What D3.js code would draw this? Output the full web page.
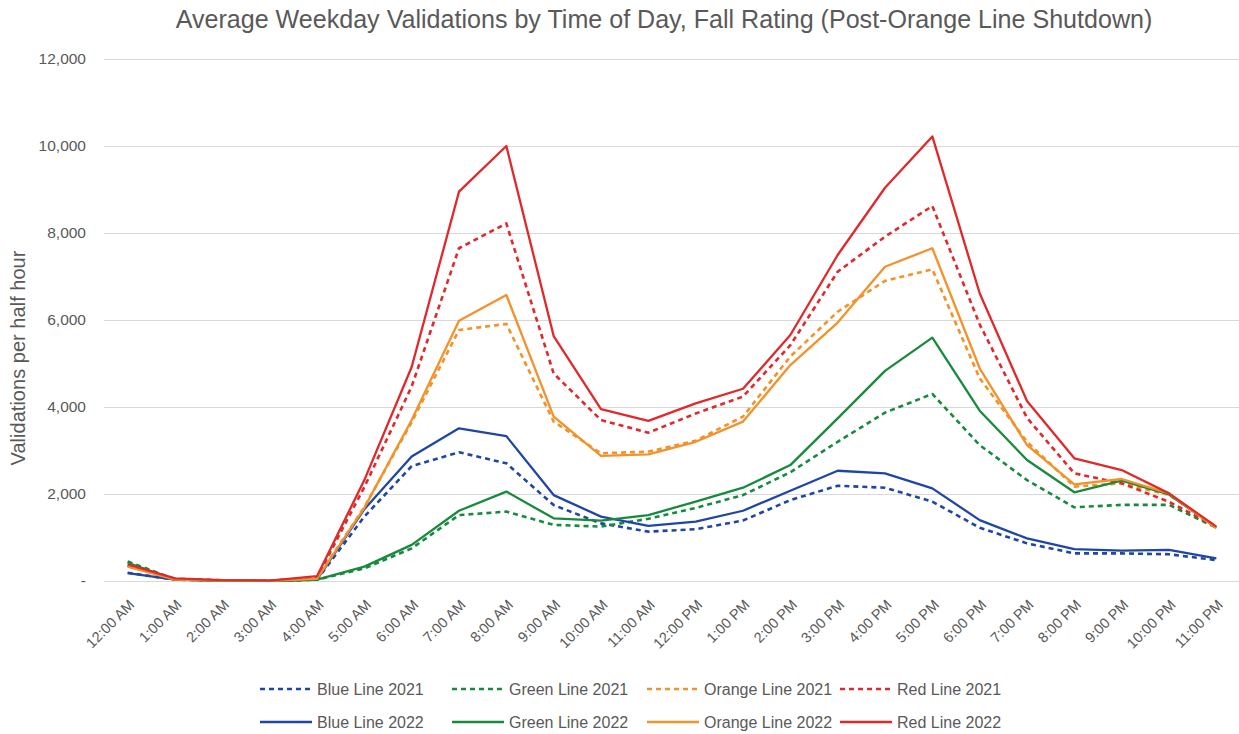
<!DOCTYPE html>
<html>
<head>
<meta charset="utf-8">
<script src="https://cdn.jsdelivr.net/npm/d3@7"></script>
<style>
  html, body { margin: 0; padding: 0; background: #fff; }
  svg { display: block; font-family: "Liberation Sans", Arial, sans-serif; }
</style>
</head>
<body>
<svg id="chart" width="1239" height="734"></svg>
<script>
const hours = ["12:00 AM","1:00 AM","2:00 AM","3:00 AM","4:00 AM","5:00 AM","6:00 AM","7:00 AM","8:00 AM","9:00 AM","10:00 AM","11:00 AM",
  "12:00 PM","1:00 PM","2:00 PM","3:00 PM","4:00 PM","5:00 PM","6:00 PM","7:00 PM","8:00 PM","9:00 PM","10:00 PM","11:00 PM"];
const yTicks = [0, 2000, 4000, 6000, 8000, 10000, 12000];

const blue2021   = [190, 30, 10, 5, 30, 1480, 2640, 2960, 2705, 1745, 1325, 1135, 1190, 1390, 1860, 2190, 2145, 1825, 1225, 865, 635, 635, 615, 480];
const green2021  = [450, 40, 10, 5, 30, 290, 750, 1515, 1595, 1290, 1250, 1430, 1680, 1975, 2500, 3200, 3870, 4300, 3125, 2320, 1695, 1750, 1750, 1225];
const orange2021 = [350, 40, 10, 5, 60, 1700, 3650, 5770, 5910, 3665, 2935, 2975, 3225, 3780, 5160, 6190, 6900, 7165, 4660, 3200, 2170, 2245, 1980, 1250];
const red2021    = [350, 50, 15, 5, 80, 2160, 4470, 7650, 8220, 4770, 3700, 3410, 3850, 4240, 5420, 7110, 7915, 8620, 5900, 3750, 2475, 2245, 1820, 1250];
const blue2022   = [180, 30, 10, 5, 30, 1650, 2860, 3510, 3330, 1975, 1480, 1265, 1365, 1615, 2075, 2535, 2475, 2130, 1400, 980, 735, 700, 715, 520];
const green2022  = [420, 30, 10, 5, 30, 330, 830, 1615, 2055, 1440, 1390, 1515, 1825, 2145, 2665, 3740, 4830, 5595, 3915, 2780, 2040, 2305, 1990, 1225];
const orange2022 = [330, 30, 10, 5, 50, 1680, 3700, 5985, 6575, 3780, 2875, 2910, 3200, 3665, 4965, 5940, 7225, 7650, 4890, 3125, 2220, 2345, 2015, 1210];
const red2022    = [380, 60, 20, 10, 110, 2320, 4920, 8950, 10000, 5630, 3950, 3680, 4085, 4420, 5655, 7494, 9040, 10220, 6614, 4138, 2820, 2550, 2015, 1250];

const seriesNames = ["Blue Line 2021","Green Line 2021","Orange Line 2021","Red Line 2021","Blue Line 2022","Green Line 2022","Orange Line 2022","Red Line 2022"];
const seriesValues = [blue2021, green2021, orange2021, red2021, blue2022, green2022, orange2022, red2022];
const seriesColors = ["#1f46a6","#178a3d","#f3922a","#e1282b","#1f46a6","#178a3d","#f3922a","#e1282b"];
const seriesDashed = [true, true, true, true, false, false, false, false];

const svg = d3.select("#chart");
const textColor = "#595959";
const plot = { left: 104, right: 1240, top: 59, bottom: 581 };

const x = d3.scaleBand().domain(hours).range([plot.left, plot.right]).paddingInner(0).paddingOuter(0);
const xc = d => x(d) + x.bandwidth() / 2;
const y = d3.scaleLinear().domain([0, 12000]).range([plot.bottom, plot.top]);

function fitFont(sel, target, start) {
  sel.style("font-size", start + "px");
  const w = sel.node().getComputedTextLength();
  sel.style("font-size", (start * target / w).toFixed(2) + "px");
}

// Title
const title = svg.append("text")
  .attr("x", 664).attr("y", 28)
  .attr("text-anchor", "middle")
  .attr("fill", textColor)
  .text("Average Weekday Validations by Time of Day, Fall Rating (Post-Orange Line Shutdown)");
fitFont(title, 977, 22);

// Gridlines + y axis
const yAxis = d3.axisLeft(y).tickValues(yTicks)
  .tickSize(-(plot.right - plot.left))
  .tickPadding(18)
  .tickFormat(d => d === 0 ? "-" : d3.format(",")(d));
const gy = svg.append("g").attr("transform", `translate(${plot.left},0)`).call(yAxis);
gy.select(".domain").remove();
gy.selectAll(".tick line").attr("stroke", "#d9d9d9").attr("stroke-width", 1);
gy.selectAll(".tick text").attr("fill", textColor).style("font-size", "15.5px")
  .style("font-family", "'Liberation Sans', Arial, sans-serif");

// X axis labels
const xAxis = d3.axisBottom(x).tickSize(0).tickPadding(0);
const gx = svg.append("g").attr("transform", `translate(0,${plot.bottom})`).call(xAxis);
gx.select(".domain").remove();
gx.selectAll(".tick text")
  .attr("fill", textColor)
  .style("font-size", "14.5px")
  .style("font-family", "'Liberation Sans', Arial, sans-serif")
  .attr("text-anchor", "end")
  .attr("dy", "0.35em")
  .attr("transform", "translate(4,21) rotate(-45)");

// Y axis title
const yt = svg.append("text")
  .attr("transform", "translate(25,358) rotate(-90)")
  .attr("text-anchor", "middle")
  .attr("fill", textColor)
  .text("Validations per half hour");
fitFont(yt, 215, 16);

// Lines
const line = d3.line().x((d, i) => xc(hours[i])).y(d => y(d));
seriesValues.forEach((vals, i) => {
  svg.append("path")
    .datum(vals)
    .attr("fill", "none")
    .attr("stroke", seriesColors[i])
    .attr("stroke-width", seriesDashed[i] ? 2.6 : 2.3)
    .attr("stroke-dasharray", seriesDashed[i] ? "5,4" : null)
    .attr("stroke-linejoin", "round")
    .attr("d", line);
});

// Legend
const legX = [260, 452, 647, 840];
const legY = [689, 722];
seriesNames.forEach((name, i) => {
  const col = i % 4, row = Math.floor(i / 4);
  const g = svg.append("g").attr("transform", `translate(${legX[col]},${legY[row]})`);
  g.append("line").attr("x1", 0).attr("x2", 52).attr("y1", 0).attr("y2", 0)
    .attr("stroke", seriesColors[i])
    .attr("stroke-width", seriesDashed[i] ? 2.6 : 2.3)
    .attr("stroke-dasharray", seriesDashed[i] ? "5,4" : null);
  g.append("text").attr("x", 57).attr("y", 0).attr("dy", "0.35em")
    .attr("fill", textColor).style("font-size", "16px").text(name);
});
</script>
</body>
</html>
